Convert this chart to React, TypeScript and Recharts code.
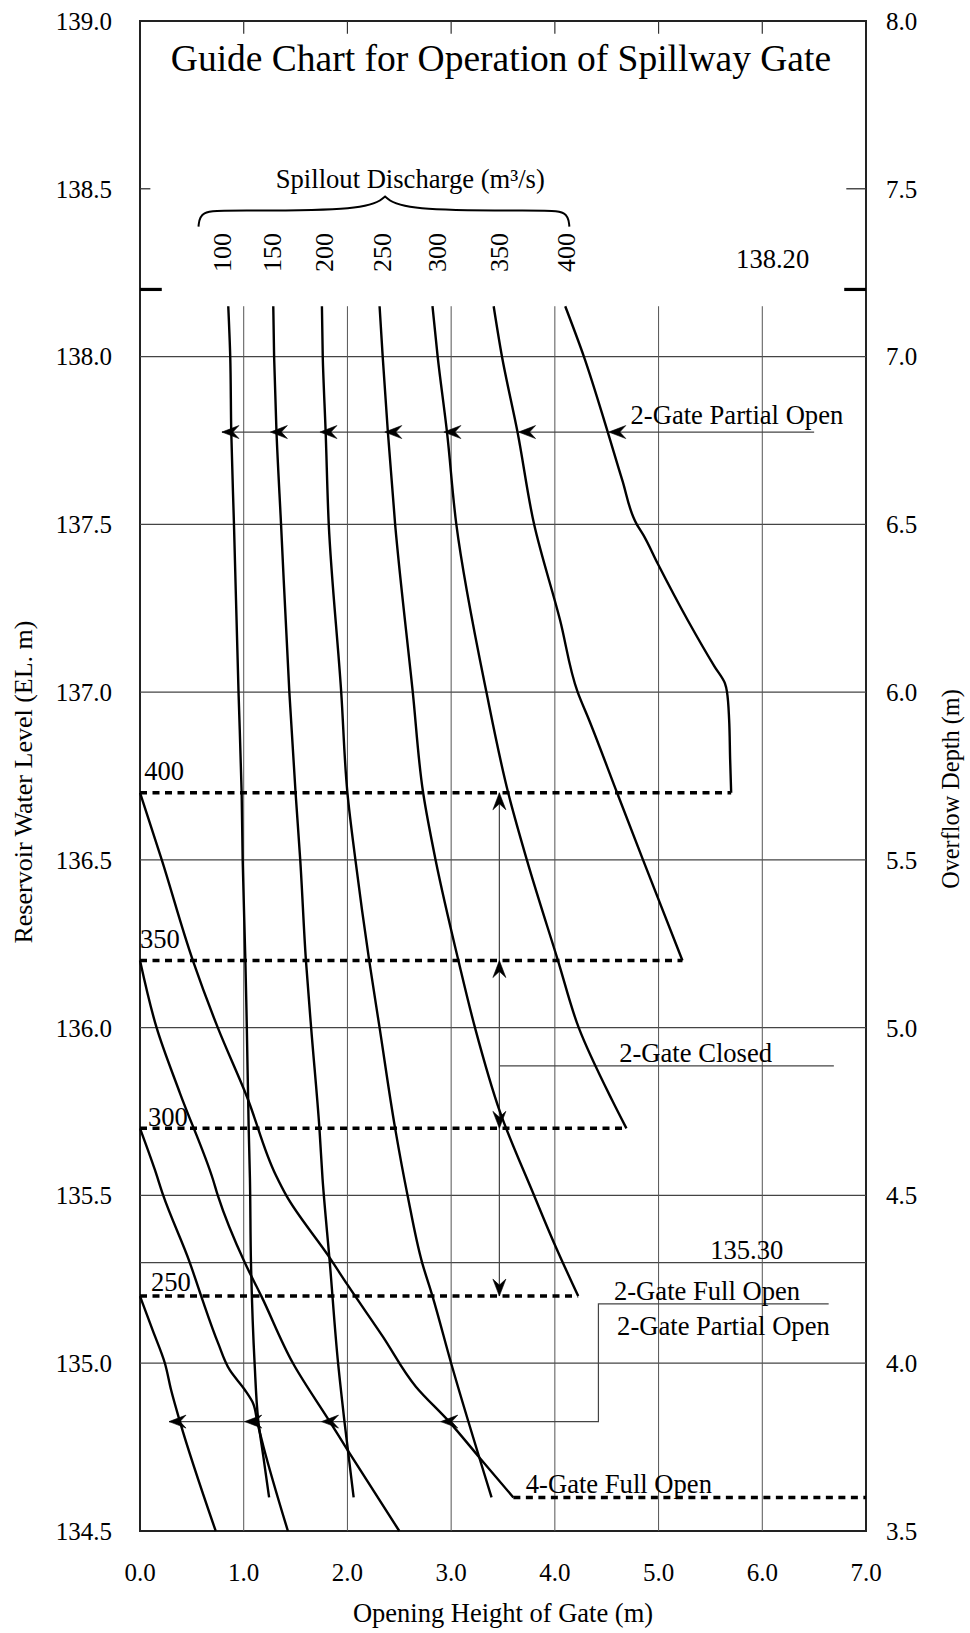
import React from "react"
import { ComposedChart, Line, XAxis, YAxis, ReferenceLine, ReferenceDot, ReferenceArea } from "recharts"

const serif = '"Liberation Serif", "Times New Roman", Times, serif'

// axes
const xTicks = [0, 1, 2, 3, 4, 5, 6, 7]
const levelTicks = [134.5, 135.0, 135.5, 136.0, 136.5, 137.0, 137.5, 138.0, 138.5, 139.0]
const depthTicks = [3.5, 4.0, 4.5, 5.0, 5.5, 6.0, 6.5, 7.0, 7.5, 8.0]
const depthRange = [[0, 3.5], [7, 8.0]]
const gridLevels = [135.0, 135.3, 135.5, 136.0, 136.5, 137.0, 137.5, 138.0]
const gridX = [1, 2, 3, 4, 5, 6]

// 2-gate partial open curves (opening height m, reservoir level EL. m)
const gate2Q100 = [[0.851, 138.15], [0.87, 138.0], [0.88, 137.775], [0.906, 137.5], [0.95, 137.0], [0.98, 136.7], [0.99, 136.5], [1.016, 136.2], [1.03, 136.0], [1.048, 135.7], [1.06, 135.55], [1.07, 135.3], [1.105, 135.0], [1.14, 134.83], [1.19, 134.72], [1.245, 134.6]]
const gate2Q150 = [[1.285, 138.15], [1.293, 138.0], [1.316, 137.775], [1.36, 137.5], [1.44, 137.0], [1.5, 136.7], [1.545, 136.5], [1.6, 136.2], [1.65, 136.0], [1.73, 135.7], [1.76, 135.55], [1.83, 135.3], [1.91, 135.0], [1.97, 134.83], [2.06, 134.6]]
const gate2Q200 = [[1.754, 138.15], [1.762, 138.0], [1.79, 137.775], [1.82, 137.5], [1.94, 137.0], [2.0, 136.7], [2.077, 136.5], [2.21, 136.2], [2.31, 136.0], [2.46, 135.7], [2.58, 135.5], [2.72, 135.3], [2.82, 135.2], [3.0, 135.0], [3.39, 134.6]]
const gate2Q250 = [[2.31, 138.15], [2.34, 138.0], [2.39, 137.775], [2.46, 137.5], [2.63, 137.0], [2.73, 136.7], [2.85, 136.5], [3.07, 136.2], [3.23, 136.0], [3.47, 135.75], [3.8, 135.5], [3.99, 135.36], [4.225, 135.2]]
const gate2Q300 = [[2.82, 138.15], [2.87, 138.0], [2.96, 137.775], [3.05, 137.5], [3.34, 137.0], [3.55, 136.7], [3.73, 136.5], [4.03, 136.2], [4.23, 136.0], [4.55, 135.785], [4.69, 135.7]]
const gate2Q350 = [[3.41, 138.15], [3.49, 138.0], [3.64, 137.775], [3.8, 137.5], [4.05, 137.215], [4.22, 137.0], [4.33, 136.917], [4.6, 136.7], [4.85, 136.5], [5.23, 136.2]]
const gate2Q400 = [[4.1, 138.15], [4.28, 138.0], [4.51, 137.775], [4.65, 137.632], [4.79, 137.5], [4.85, 137.47], [4.99, 137.384], [5.28, 137.215], [5.54, 137.076], [5.64, 137.026], [5.66, 137.0], [5.68, 136.92], [5.69, 136.8], [5.7, 136.7]]

// 4-gate curves
const gate4Q400 = [[0, 136.7], [0.21, 136.5], [0.51, 136.2], [0.75, 136.0], [1.03, 135.795], [1.31, 135.56], [1.41, 135.5], [1.83, 135.314], [2.0, 135.234], [2.34, 135.08], [2.66, 134.93], [2.98, 134.826], [3.27, 134.72], [3.6, 134.6]]
const gate4Q350 = [[0, 136.2], [0.16, 136.0], [0.385, 135.805], [0.705, 135.546], [0.75, 135.5], [1.01, 135.3], [1.17, 135.2], [1.475, 135.0], [1.83, 134.826], [2.0, 134.742], [2.5, 134.5]]
const gate4Q300 = [[0, 135.7], [0.144, 135.576], [0.224, 135.5], [0.48, 135.3], [0.59, 135.2], [0.753, 135.06], [0.865, 134.98], [1.01, 134.921], [1.09, 134.881], [1.13, 134.826], [1.19, 134.752], [1.426, 134.5]]
const gate4Q250 = [[0, 135.2], [0.12, 135.1], [0.24, 135.0], [0.3, 134.92], [0.385, 134.826], [0.73, 134.5]]

// dotted switching levels
const switch400 = [[0, 136.7], [5.7, 136.7]]
const switch350 = [[0, 136.2], [5.23, 136.2]]
const switch300 = [[0, 135.7], [4.69, 135.7]]
const switch250 = [[0, 135.2], [4.225, 135.2]]
const gate4Full = [[3.6, 134.6], [7, 134.6]]

// leaders and arrows
const upperLeader = [[0.79, 137.775], [6.5, 137.775]]
const lowerLeader = [[0.28, 134.826], [4.42, 134.826], [4.42, 135.177], [6.64, 135.177]]
const closedLeader = [[3.465, 135.886], [6.69, 135.886]]
const closedShaft = [[3.465, 136.7], [3.465, 135.2]]
const upperArrowX = [0.79, 1.257, 1.735, 2.36, 2.93, 3.65, 4.52]
const lowerArrowX = [0.28, 1.01, 1.75, 2.9]
const verticalArrows = [
  { x: 3.465, y: 136.7, dir: "up" },
  { x: 3.465, y: 136.2, dir: "up" },
  { x: 3.465, y: 135.7, dir: "down" },
  { x: 3.465, y: 135.2, dir: "down" },
]

// brace over discharge labels
const brace = [[0.564, 138.387], [0.58, 138.435], [0.85, 138.435], [2.2, 138.435], [2.363, 138.477], [2.363, 138.477], [2.363, 138.477], [2.52, 138.435], [3.87, 138.435], [4.125, 138.435], [4.14, 138.387]]

const dischargeLabels = ["100", "150", "200", "250", "300", "350", "400"]
const dischargeLabelX = [0.79, 1.27, 1.77, 2.33, 2.86, 3.46, 4.11]

const notes = [
  { x: 3.48, y: 138.851, text: "Guide Chart for Operation of Spillway Gate", anchor: "middle", big: true },
  { x: 2.606, y: 138.502, text: "Spillout Discharge (m³/s)", anchor: "middle" },
  { x: 6.1, y: 138.263, text: "138.20", anchor: "middle" },
  { x: 4.73, y: 137.8, text: "2-Gate Partial Open", anchor: "start" },
  { x: 0.04, y: 136.738, text: "400", anchor: "start" },
  { x: 0.0, y: 136.237, text: "350", anchor: "start" },
  { x: 4.62, y: 135.899, text: "2-Gate Closed", anchor: "start" },
  { x: 0.077, y: 135.707, text: "300", anchor: "start" },
  { x: 5.85, y: 135.31, text: "135.30", anchor: "middle" },
  { x: 0.106, y: 135.214, text: "250", anchor: "start" },
  { x: 4.57, y: 135.189, text: "2-Gate Full Open", anchor: "start" },
  { x: 4.6, y: 135.083, text: "2-Gate Partial Open", anchor: "start" },
  { x: 3.72, y: 134.613, text: "4-Gate Full Open", anchor: "start" },
]

const curves = [gate2Q100, gate2Q150, gate2Q200, gate2Q250, gate2Q300, gate2Q350, gate2Q400, gate4Q400, gate4Q350, gate4Q300, gate4Q250]
const switches = [switch400, switch350, switch300, switch250, gate4Full]
const leaders = [upperLeader, lowerLeader, closedLeader, closedShaft]

const toPts = (arr: number[][]) => arr.map(([x, y]) => ({ x, y }))

function ArrowHead({ cx, cy, dir }: { cx?: number; cy?: number; dir: string }) {
  if (cx == null || cy == null) return null
  const rot = dir === "up" ? 90 : dir === "down" ? -90 : 0
  return (
    <path
      transform={`translate(${cx},${cy}) rotate(${rot})`}
      d="M0,0 L17,-6.5 L11,0 L17,6.5 Z"
      fill="#000"
      stroke="#000"
      strokeWidth={0.6}
    />
  )
}

const line = (key: string, arr: number[][], props: any) => (
  <Line
    key={key}
    data={toPts(arr)}
    dataKey="y"
    yAxisId="left"
    type="linear"
    dot={false}
    activeDot={false}
    legendType="none"
    isAnimationActive={false}
    {...props}
  />
)

export default function App() {
  return (
    <div>
      <style>{"body{margin:0}"}</style>
      <ComposedChart width={970} height={1633} margin={{ top: 21, right: 0, bottom: 0, left: 0 }}>
        <XAxis
          type="number"
          dataKey="x"
          domain={[0, 7]}
          ticks={xTicks}
          tickFormatter={(v: number) => v.toFixed(1)}
          axisLine={false}
          tickLine={false}
          tickSize={0}
          tickMargin={32}
          height={102}
          tick={{ fill: "#000", fontSize: 25, fontFamily: serif }}
          label={(p: any) => (
            <text
              x={p.viewBox.x + p.viewBox.width / 2}
              y={p.viewBox.y + 91}
              textAnchor="middle"
              fontFamily={serif}
              fontSize={26.5}
              fill="#000"
            >
              Opening Height of Gate (m)
            </text>
          )}
        />
        <YAxis
          yAxisId="left"
          type="number"
          domain={[134.5, 139]}
          ticks={levelTicks}
          tickFormatter={(v: number) => v.toFixed(1)}
          axisLine={false}
          tickLine={false}
          tickSize={0}
          tickMargin={28}
          width={140}
          tick={{ fill: "#000", fontSize: 25, fontFamily: serif }}
          label={(p: any) => (
            <text
              transform={`translate(${p.viewBox.x + 23},${p.viewBox.y + p.viewBox.height / 2 + 6}) rotate(-90)`}
              textAnchor="middle"
              dy="0.35em"
              fontFamily={serif}
              fontSize={26}
              fill="#000"
            >
              Reservoir Water Level  (EL. m)
            </text>
          )}
        />
        <YAxis
          yAxisId="right"
          orientation="right"
          type="number"
          domain={[3.5, 8]}
          ticks={depthTicks}
          tickFormatter={(v: number) => v.toFixed(1)}
          axisLine={false}
          tickLine={false}
          tickSize={0}
          tickMargin={20}
          width={104}
          tick={{ fill: "#000", fontSize: 25, fontFamily: serif, textAnchor: "start" }}
          label={(p: any) => (
            <text
              transform={`translate(${p.viewBox.x + 84},${p.viewBox.y + p.viewBox.height / 2 + 13}) rotate(-90)`}
              textAnchor="middle"
              dy="0.35em"
              fontFamily={serif}
              fontSize={24.3}
              fill="#000"
            >
              Overflow Depth  (m)
            </text>
          )}
        />

        {gridLevels.map((v) => (
          <ReferenceLine key={`h${v}`} yAxisId="left" y={v} stroke="#444" strokeWidth={1.3} />
        ))}
        {gridX.map((v) => (
          <ReferenceLine
            key={`v${v}`}
            yAxisId="left"
            segment={[{ x: v, y: 134.5 }, { x: v, y: 138.15 }]}
            stroke="#555"
            strokeWidth={1}
          />
        ))}
        {gridX.map((v) => (
          <ReferenceLine
            key={`t${v}`}
            yAxisId="left"
            segment={[{ x: v, y: 139 }, { x: v, y: 138.962 }]}
            stroke="#333"
            strokeWidth={1.2}
          />
        ))}
        <ReferenceLine yAxisId="left" segment={[{ x: 0, y: 138.5 }, { x: 0.1, y: 138.5 }]} stroke="#333" strokeWidth={1.3} />
        <ReferenceLine yAxisId="left" segment={[{ x: 6.81, y: 138.5 }, { x: 7, y: 138.5 }]} stroke="#333" strokeWidth={1.3} />
        <ReferenceLine yAxisId="left" segment={[{ x: 0, y: 138.2 }, { x: 0.21, y: 138.2 }]} stroke="#000" strokeWidth={3.2} />
        <ReferenceLine yAxisId="left" segment={[{ x: 6.79, y: 138.2 }, { x: 7, y: 138.2 }]} stroke="#000" strokeWidth={3.2} />
        <ReferenceArea yAxisId="left" x1={0} x2={7} y1={134.5} y2={139} fill="none" stroke="#222" strokeWidth={2} />

        {line("depth", depthRange, { yAxisId: "right", stroke: "none" })}
        {leaders.map((l, i) => line(`l${i}`, l, { stroke: "#444", strokeWidth: 1.2 }))}
        {switches.map((s, i) => line(`s${i}`, s, { stroke: "#000", strokeWidth: 3.5, strokeDasharray: "7 5.5" }))}
        {curves.map((c, i) => line(`c${i}`, c, { stroke: "#000", strokeWidth: 2.4, type: "monotoneY" }))}
        {line("brace", brace, { stroke: "#000", strokeWidth: 2, type: "basis" })}

        {upperArrowX.map((x) => (
          <ReferenceDot key={`ua${x}`} yAxisId="left" x={x} y={137.775} shape={(p: any) => <ArrowHead cx={p.cx} cy={p.cy} dir="left" />} />
        ))}
        {lowerArrowX.map((x) => (
          <ReferenceDot key={`la${x}`} yAxisId="left" x={x} y={134.826} shape={(p: any) => <ArrowHead cx={p.cx} cy={p.cy} dir="left" />} />
        ))}
        {verticalArrows.map((a) => (
          <ReferenceDot key={`va${a.y}`} yAxisId="left" x={a.x} y={a.y} shape={(p: any) => <ArrowHead cx={p.cx} cy={p.cy} dir={a.dir} />} />
        ))}

        {dischargeLabels.map((t, i) => (
          <ReferenceDot
            key={`q${t}`}
            yAxisId="left"
            x={dischargeLabelX[i]}
            y={138.252}
            shape={(p: any) => (
              <text
                transform={`translate(${p.cx},${p.cy}) rotate(-90)`}
                dy="0.35em"
                fontFamily={serif}
                fontSize={26}
                fill="#000"
              >
                {t}
              </text>
            )}
          />
        ))}
        {notes.map((n) => (
          <ReferenceDot
            key={`n${n.text}${n.y}`}
            yAxisId="left"
            x={n.x}
            y={n.y}
            shape={(p: any) => (
              <text
                x={p.cx}
                y={p.cy}
                textAnchor={n.anchor}
                fontFamily={serif}
                fontSize={n.big ? 37.5 : 26.6}
                fill="#000"
              >
                {n.text}
              </text>
            )}
          />
        ))}
      </ComposedChart>
    </div>
  )
}
